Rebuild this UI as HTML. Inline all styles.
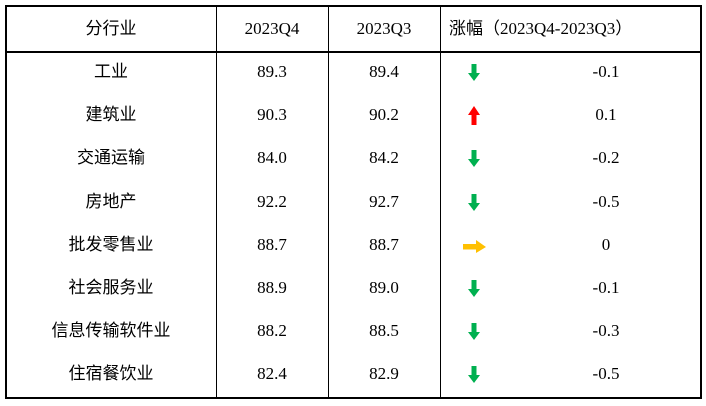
<!DOCTYPE html>
<html><head><meta charset="utf-8"><style>
body{margin:0;width:706px;height:406px;background:#fff;position:relative;overflow:hidden;font-family:"Liberation Serif","Noto Serif CJK SC",serif;color:#000}
.t{position:absolute;font-size:17px;line-height:20px;transform:translate(-50%,-50%);white-space:nowrap}
.cjk{font-family:"Liberation Sans","Noto Sans CJK SC",sans-serif;font-size:17px}
.ln{position:absolute;background:#000}
</style></head><body>
<div class="ln" style="left:5px;top:5px;width:697px;height:2px"></div>
<div class="ln" style="left:5px;top:397px;width:697px;height:2px"></div>
<div class="ln" style="left:5px;top:5px;width:2px;height:394px"></div>
<div class="ln" style="left:700px;top:5px;width:2px;height:394px"></div>
<div class="ln" style="left:5px;top:51px;width:697px;height:2px"></div>
<div class="ln" style="left:216px;top:5px;width:1px;height:394px"></div>
<div class="ln" style="left:328px;top:5px;width:1px;height:394px"></div>
<div class="ln" style="left:440px;top:5px;width:1px;height:394px"></div>
<div class="t cjk" style="left:111px;top:29px">分行业</div>
<div class="t" style="left:272px;top:29px">2023Q4</div>
<div class="t" style="left:384px;top:29px">2023Q3</div>
<div class="t" style="left:449px;top:29px;transform:translateY(-50%)"><span class="cjk">涨幅（</span>2023Q4-2023Q3<span class="cjk">）</span></div>
<div id="rows"></div>
<script>
const industries=["工业","建筑业","交通运输","房地产","批发零售业","社会服务业","信息传输软件业","住宿餐饮业"];
const q4=["89.3","90.3","84.0","92.2","88.7","88.9","88.2","82.4"];
const q3=["89.4","90.2","84.2","92.7","88.7","89.0","88.5","82.9"];
const changes=["-0.1","0.1","-0.2","-0.5","0","-0.1","-0.3","-0.5"];
const root=document.getElementById('rows');
function txt(s,x,y,cls,name){const d=document.createElement('div');d.className='t '+(cls||'');d.style.left=x+'px';d.style.top=y+'px';d.textContent=s;


root.appendChild(d);}
industries.forEach((ind,i)=>{
 const y=72+i*43.2;
 txt(ind,111,y,'cjk','industry-'+i);
 txt(q4[i],272,y,'','q4-value-'+i);
 txt(q3[i],384,y,'','q3-value-'+i);
 txt(changes[i],606,y,'','change-value-'+i);
 const v=parseFloat(changes[i]);
 const s=document.createElementNS('http://www.w3.org/2000/svg','svg');
 s.setAttribute('width','26');s.setAttribute('height','22');
 s.style.position='absolute';s.style.left=(474-13)+'px';s.style.top=(y-10)+'px';
 let p;
 if(v<0)p='<polygon points="10.5,2 15.5,2 15.5,11 19,11 13,19 7,11 10.5,11" fill="#00b050"/>';
 else if(v>0)p='<polygon points="10.5,20 15.5,20 15.5,10 19,10 13,1 7,10 10.5,10" fill="#ff0000"/>';
 else p='<polygon points="2,9 15,9 15,5 25,12 15,18 15,14.5 2,14.5" fill="#ffc000"/>';
 s.innerHTML=p;
 
 
 root.appendChild(s);
});
</script>
</body></html>
